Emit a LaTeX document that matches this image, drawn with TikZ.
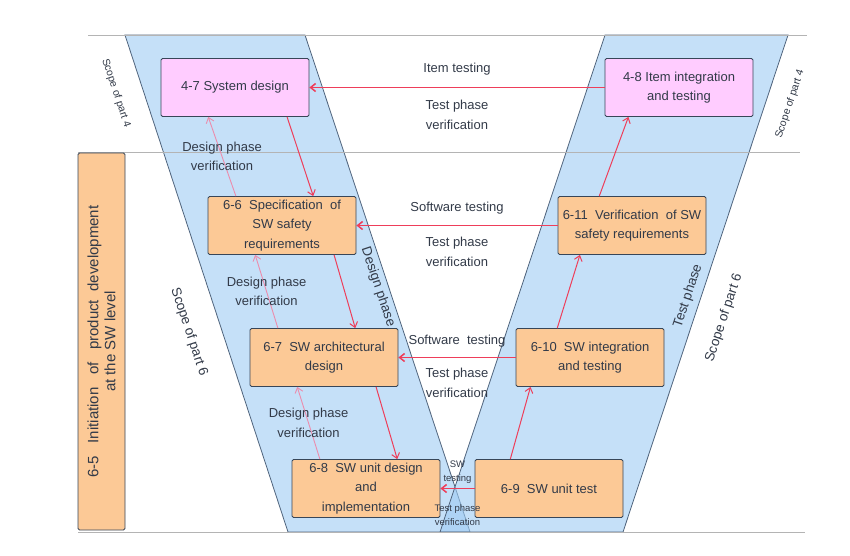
\documentclass[tikz,border=0pt]{standalone}
\usepackage{fontspec}
\setmainfont{Liberation Sans}
\usepackage{xcolor}
\usetikzlibrary{positioning, calc, arrows.meta}
\definecolor{VBlue}{RGB}{158,203,243}
\definecolor{VEdge}{RGB}{80,100,125}
\definecolor{VPink}{RGB}{255,204,255}
\definecolor{VOrange}{RGB}{252,201,150}
\definecolor{VRed}{RGB}{238,62,90}
\definecolor{VLightRed}{RGB}{236,140,172}
\definecolor{VText}{RGB}{50,58,72}
\definecolor{VLine}{RGB}{180,180,180}
\tikzset{
    phasebox/.style={
        draw=VEdge, line width=0.8pt, fill=VBlue, fill opacity=0.6
    },
    stagebox/.style={
        draw=VEdge!70!black, line width=0.8pt, rounded corners=1.5pt,
        minimum width=148pt, minimum height=58pt, inner sep=2pt,
        align=center, text=VText, font=\fontsize{13}{19.5}\selectfont
    },
    sysbox/.style={
        stagebox, fill=VPink
    },
    swbox/.style={
        stagebox, fill=VOrange
    },
    flowptr/.style={
        -{Straight Barb[length=5pt, width=8pt]}, VRed, line width=1pt
    },
    testptr/.style={
        flowptr, line width=1.5pt
    },
    verptr/.style={
        -{Straight Barb[length=5pt, width=8pt]}, VLightRed, line width=0.9pt
    },
    labeltxt/.style={
        text=VText, align=center, inner sep=2pt, font=\fontsize{13}{19.5}\selectfont
    },
    smalltxt/.style={
        text=VText, align=center, inner sep=1pt, font=\fontsize{9.5}{14}\selectfont
    },
    sidetxt/.style={
        text=VText, font=\fontsize{13.5}{16}\selectfont
    },
    gridline/.style={
        VLine, line width=0.8pt
    }
}

\begin{document}
\begin{tikzpicture}[x=1pt, y=-1pt]
\useasboundingbox (0,0) rectangle (850,555);
\draw[phasebox] (125,35) -- (305,35) -- (470,532) -- (288,532) -- cycle;
\draw[phasebox] (605,35) -- (788,35) -- (623,532) -- (440,532) -- cycle;
\draw[gridline] (88,35) -- (807,35);
\draw[gridline] (78,152) -- (800,152);
\draw[gridline] (78,532) -- (805,532);

\node[swbox, rotate=90, minimum width=377pt, minimum height=47pt, font=\fontsize{15}{17}\selectfont] (init) at (101.5,341.5)
    {6-5\ \ \ Initiation\ \ \ of\ \ \ product\ \ development\\at the SW level};
\node[sysbox] (sys) at (235,87.5) {4-7 System design};
\node[sysbox] (item) at (679,87.5) {4-8 Item integration\\and testing};
\node[swbox] (swreq) at (282,225.5) {6-6\ \ Specification\ \ of\\SW safety\\requirements};
\node[swbox] (verif) at (632,225.5) {6-11\ \ Verification\ \ of SW\\safety requirements};
\node[swbox] (arch) at (324,357.5) {6-7\ \ SW architectural\\design};
\node[swbox] (integ) at (590,357.5) {6-10\ \ SW integration\\and testing};
\node[swbox] (unit) at (366,488.5) {6-8\ \ SW unit design\\and\\implementation};
\node[swbox] (utest) at (549,488.5) {6-9\ \ SW unit test};

\draw[flowptr] ($(sys.south west)!0.85!(sys.south east)$) -- ($(swreq.north west)!0.71!(swreq.north east)$);
\draw[flowptr] ($(swreq.south west)!0.85!(swreq.south east)$) -- ($(arch.north west)!0.71!(arch.north east)$);
\draw[flowptr] ($(arch.south west)!0.85!(arch.south east)$) -- ($(unit.north west)!0.71!(unit.north east)$);

\draw[verptr] ($(swreq.north west)!0.19!(swreq.north east)$) -- node[labeltxt] {Design phase\\verification} ($(sys.south west)!0.32!(sys.south east)$);
\draw[verptr] ($(arch.north west)!0.19!(arch.north east)$) -- node[labeltxt] {Design phase\\verification} ($(swreq.south west)!0.32!(swreq.south east)$);
\draw[verptr] ($(unit.north west)!0.19!(unit.north east)$) -- node[labeltxt] {Design phase\\verification} ($(arch.south west)!0.32!(arch.south east)$);

\draw[flowptr] ($(utest.north west)!0.24!(utest.north east)$) -- ($(integ.south west)!0.1!(integ.south east)$);
\draw[flowptr] ($(integ.north west)!0.28!(integ.north east)$) -- ($(verif.south west)!0.15!(verif.south east)$);
\draw[flowptr] ($(verif.north west)!0.28!(verif.north east)$) -- ($(item.south west)!0.16!(item.south east)$);

\draw[testptr] (item.west) -- node[labeltxt, above=10pt] {Item testing} node[labeltxt, below=10pt] {Test phase\\verification} (sys.east);
\draw[testptr] (verif.west) -- node[labeltxt, above=9pt] {Software testing} node[labeltxt, below=9pt] {Test phase\\verification} (swreq.east);
\draw[testptr] (integ.west) -- node[labeltxt, above=8pt] {Software\ \ testing} node[labeltxt, below=8pt] {Test phase\\verification} (arch.east);
\draw[testptr] (utest.west) -- node[smalltxt, above=3pt] {SW\\testing} node[smalltxt, below=14pt] {Test phase\\verification} (unit.east);

\node[sidetxt, font=\fontsize{10.5}{12}\selectfont, rotate=-71.6] (scopefourl) at (116,93) {Scope of part 4};
\node[sidetxt, font=\fontsize{10.5}{12}\selectfont, rotate=71.6] (scopefourr) at (790,104) {Scope of part 4};
\node[sidetxt, rotate=-71.6] (scopesixl) at (189,332) {Scope of part 6};
\node[sidetxt, rotate=71.6] (scopesixr) at (724,318) {Scope of part 6};
\node[sidetxt, rotate=-71.6] (designph) at (378,287) {Design phase};
\node[sidetxt, rotate=71.6] (testph) at (688,296) {Test phase};
\end{tikzpicture}
\end{document}
